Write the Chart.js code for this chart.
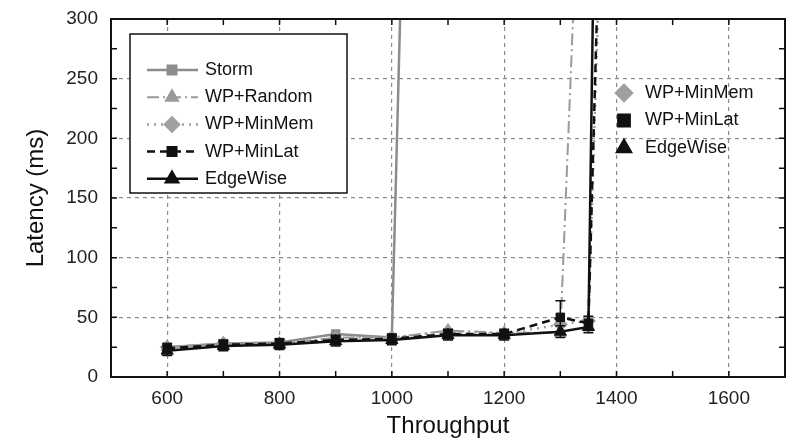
<!DOCTYPE html>
<html lang="en">
<head>
  <meta charset="UTF-8" />
  <title>Latency vs Throughput</title>
  <script src="https://cdn.jsdelivr.net/npm/chart.js@4"></script>
  <style>
    html, body { margin: 0; padding: 0; background: #fff; }
    #wrap { width: 796px; height: 445px; }
  </style>
</head>
<body>
  <div id="wrap"><canvas id="latChart" width="796" height="445"></canvas></div>

  <script>
    // data
    const seriesNames = ['Storm', 'WP+Random', 'WP+MinMem', 'WP+MinLat', 'EdgeWise'];
    const stormX  = [600, 700, 800, 900, 1000, 1100];
    const stormY  = [25, 28, 29, 36, 33, 1850];
    const randomX = [600, 700, 800, 900, 1000, 1100, 1200, 1300, 1350];
    const randomY = [25, 28, 28, 33, 33, 39, 37, 37, 620];
    const memX    = [600, 700, 800, 900, 1000, 1100, 1200, 1300, 1350, 1400];
    const memY    = [25, 28, 28, 32, 33, 38, 36, 44, 47, 800];
    const latX    = [600, 700, 800, 900, 1000, 1100, 1200, 1300, 1350, 1400];
    const latY    = [24, 27, 28, 31, 32, 36, 36, 50, 45, 900];
    const latErr  = [4, 4, 4, 4, 4, 4, 4, 14, 6, 0];
    const edgeX   = [600, 700, 800, 900, 1000, 1100, 1200, 1300, 1350, 1400];
    const edgeY   = [22, 26, 27, 30, 31, 35, 35, 38, 42, 1700];
    const edgeErr = [4, 4, 4, 4, 4, 4, 4, 5, 5, 0];
    const xTicks  = [600, 800, 1000, 1200, 1400, 1600];
    const yTicks  = [0, 50, 100, 150, 200, 250, 300];

    const pts = (xs, ys) => xs.map((x, i) => ({ x: x, y: ys[i] }));

    const styles = [
      { color: '#8c8c8c', dash: [], pt: 'rect', r: 6, w: 2.5 },
      { color: '#9a9a9a', dash: [12, 4, 2, 4], pt: 'triangle', r: 7, w: 2 },
      { color: '#a0a0a0', dash: [2, 5], pt: 'rectRot', r: 7, w: 2.5 },
      { color: '#111111', dash: [8, 5], pt: 'rect', r: 6, w: 2.5 },
      { color: '#111111', dash: [], pt: 'triangle', r: 7, w: 2.5 }
    ];
    const seriesData = [
      pts(stormX, stormY), pts(randomX, randomY), pts(memX, memY),
      pts(latX, latY), pts(edgeX, edgeY)
    ];
    const errBars = { 3: latErr, 4: edgeErr };

    const FONT = 'Liberation Sans, Arial, sans-serif';

    // error bars, frame, inward ticks and both legends
    const decor = {
      id: 'decor',
      afterDatasetsDraw(chart) {
        const ctx = chart.ctx, xs = chart.scales.x, ys = chart.scales.y;
        const a = chart.chartArea;
        ctx.save();
        ctx.beginPath();
        ctx.rect(a.left, a.top, a.right - a.left, a.bottom - a.top);
        ctx.clip();
        Object.keys(errBars).forEach(k => {
          const d = seriesData[k], e = errBars[k];
          ctx.strokeStyle = styles[k].color;
          ctx.lineWidth = 1.5;
          d.forEach((p, i) => {
            if (!e[i]) return;
            const px = xs.getPixelForValue(p.x);
            const y1 = ys.getPixelForValue(p.y - e[i]);
            const y2 = ys.getPixelForValue(p.y + e[i]);
            ctx.beginPath();
            ctx.moveTo(px, y1); ctx.lineTo(px, y2);
            ctx.moveTo(px - 5, y1); ctx.lineTo(px + 5, y1);
            ctx.moveTo(px - 5, y2); ctx.lineTo(px + 5, y2);
            ctx.stroke();
          });
        });
        ctx.restore();
      },
      afterDraw(chart) {
        const ctx = chart.ctx, xs = chart.scales.x, ys = chart.scales.y;
        const a = chart.chartArea;
        ctx.save();
        // ticks
        ctx.strokeStyle = '#111';
        ctx.lineWidth = 1.5;
        for (let v = 500; v <= 1700; v += 100) {
          const px = xs.getPixelForValue(v);
          ctx.beginPath();
          ctx.moveTo(px, a.bottom); ctx.lineTo(px, a.bottom - 6);
          ctx.moveTo(px, a.top); ctx.lineTo(px, a.top + 6);
          ctx.stroke();
        }
        for (let v = 0; v <= 300; v += 25) {
          const py = ys.getPixelForValue(v);
          ctx.beginPath();
          ctx.moveTo(a.left, py); ctx.lineTo(a.left + 6, py);
          ctx.moveTo(a.right, py); ctx.lineTo(a.right - 6, py);
          ctx.stroke();
        }
        // frame
        ctx.lineWidth = 2;
        ctx.strokeRect(a.left, a.top, a.right - a.left, a.bottom - a.top);

        // main legend
        const bx = 130, by = 34, bw = 217, bh = 159;
        ctx.fillStyle = '#fff';
        ctx.fillRect(bx, by, bw, bh);
        ctx.strokeStyle = '#111';
        ctx.lineWidth = 1.5;
        ctx.strokeRect(bx, by, bw, bh);
        ctx.font = '18px ' + FONT;
        ctx.textBaseline = 'middle';
        seriesNames.forEach((name, i) => {
          const s = styles[i];
          const yy = by + 36 + i * 27.2;
          ctx.strokeStyle = s.color;
          ctx.lineWidth = s.w;
          ctx.setLineDash(s.dash);
          ctx.beginPath();
          ctx.moveTo(bx + 17, yy); ctx.lineTo(bx + 68, yy);
          ctx.stroke();
          ctx.setLineDash([]);
          ctx.fillStyle = s.color;
          Chart.helpers.drawPoint(ctx, { pointStyle: s.pt, radius: s.r, borderWidth: 1, rotation: 0 }, bx + 42, yy);
          ctx.fillStyle = '#111';
          ctx.fillText(name, bx + 75, yy);
        });

        // second, markers-only legend
        [2, 3, 4].forEach((k, j) => {
          const s = styles[k];
          const yy = 93 + j * 27.5;
          ctx.fillStyle = s.color;
          ctx.strokeStyle = s.color;
          Chart.helpers.drawPoint(ctx, { pointStyle: s.pt, radius: 8, borderWidth: 1, rotation: 0 }, 624, yy);
          ctx.fillStyle = '#111';
          ctx.fillText(seriesNames[k], 645, yy);
        });
        ctx.restore();
      }
    };

    new Chart(document.getElementById('latChart'), {
      type: 'line',
      data: {
        datasets: seriesData.map((d, i) => ({
          label: seriesNames[i],
          data: d,
          borderColor: styles[i].color,
          backgroundColor: styles[i].color,
          borderDash: styles[i].dash,
          borderWidth: styles[i].w,
          pointStyle: styles[i].pt,
          pointRadius: styles[i].r,
          pointBorderWidth: 1,
          tension: 0
        })).reverse()
      },
      options: {
        responsive: false,
        animation: false,
        devicePixelRatio: 1,
        layout: { padding: { top: 19, right: 11, left: 0, bottom: 0 } },
        plugins: { legend: { display: false }, tooltip: { enabled: false } },
        scales: {
          x: {
            type: 'linear',
            min: 500, max: 1700,
            afterFit: s => { s.height = 68; s.paddingTop = 0; },
            afterBuildTicks: s => { s.ticks = []; for (let v = 500; v <= 1700; v += 100) s.ticks.push({ value: v }); },
            ticks: {
              autoSkip: false, maxRotation: 0, padding: 10,
              color: '#222', font: { size: 19, family: FONT },
              callback: v => xTicks.includes(v) ? String(v) : ''
            },
            grid: {
              drawTicks: false,
              color: c => xTicks.includes(c.tick && c.tick.value) ? '#8a8a8a' : 'rgba(0,0,0,0)',
              lineWidth: 1.2
            },
            border: { display: false, dash: [4, 4] },
            title: { display: true, text: 'Throughput', color: '#111', font: { size: 24, family: FONT }, padding: { top: 3 } }
          },
          y: {
            type: 'linear',
            min: 0, max: 300,
            afterFit: s => { s.width = 111; s.paddingTop = 0; s.paddingBottom = 0; },
            afterBuildTicks: s => { s.ticks = []; for (let v = 0; v <= 300; v += 25) s.ticks.push({ value: v }); },
            ticks: {
              autoSkip: false, padding: 13,
              color: '#222', font: { size: 19, family: FONT },
              callback: v => yTicks.includes(v) ? String(v) : ''
            },
            grid: {
              drawTicks: false,
              color: c => yTicks.includes(c.tick && c.tick.value) ? '#8a8a8a' : 'rgba(0,0,0,0)',
              lineWidth: 1.2
            },
            border: { display: false, dash: [4, 4] },
            title: { display: true, text: 'Latency (ms)', color: '#111', font: { size: 24, family: FONT }, padding: { top: 22, bottom: 0 } }
          }
        }
      },
      plugins: [decor]
    });
  </script>
</body>
</html>
